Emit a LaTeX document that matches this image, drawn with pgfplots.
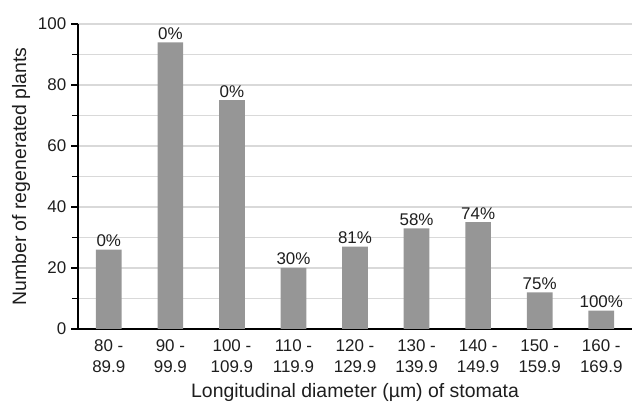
\documentclass[border=0pt]{standalone}
\usepackage{pgfplots}
\pgfplotsset{compat=1.18}
\usepackage{pgfplotstable}
\usepackage{fontspec}
\setmainfont{Liberation Sans}
\definecolor{barc}{RGB}{150,150,150}
\definecolor{gridc}{RGB}{217,217,217}
\definecolor{txt}{RGB}{30,30,30}
\pgfplotstableread{
x y lab
0 26 0\%
1 94 0\%
2 75 0\%
3 20 30\%
4 27 81\%
5 33 58\%
6 35 74\%
7 12 75\%
8 6 100\%
}\datatab
\begin{document}
\begin{tikzpicture}
\path[use as bounding box] (-56.2pt,-52.6pt) rectangle (403.3pt,236.9pt);
\begin{axis}[
  at={(0,0)}, anchor=south west,
  scale only axis, width=399pt, height=219.6pt,
  font=\fontsize{12.2}{14}\selectfont,
  /pgf/number format/assume math mode=true,
  axis x line*=bottom, axis y line*=left,
  axis line style={line width=1.1pt, -},
  xmin=-0.5, xmax=8.5, ymin=0, ymax=100,
  ytick={0,20,...,100},
  minor ytick={10,30,...,90},
  ymajorgrids, yminorgrids,
  major grid style={gridc, line width=1.3pt},
  minor grid style={gridc, line width=1.3pt},
  xtick={0,...,8},
  xticklabels={{80 -\\89.9},{90 -\\99.9},{100 -\\109.9},{110 -\\119.9},{120 -\\129.9},{130 -\\139.9},{140 -\\149.9},{150 -\\159.9},{160 -\\169.9}},
  minor xtick={-0.5,0.5,...,8.5},
  xtick style={draw=none},
  minor x tick style={black, line width=1.1pt},
  ytick style={black, line width=1.1pt},
  minor y tick style={black, line width=1.1pt},
  tick align=outside,
  major tick length=5pt, minor tick length=4.5pt,
  xticklabel style={align=center, text=txt, font=\fontsize{12.2}{15.2}\selectfont, yshift=1pt},
  yticklabel style={text=txt},
  ylabel={Number of regenerated plants},
  xlabel={Longitudinal diameter (µm) of stomata},
  every axis y label/.style={at={(rel axis cs:0,0.5)}, xshift=-41pt, rotate=90, anchor=center, text=txt, font=\fontsize{14}{16}\selectfont},
  every axis x label/.style={at={(rel axis cs:0.5,0)}, yshift=-49.6pt, anchor=base, text=txt, font=\fontsize{14}{16}\selectfont},
  clip=false,
]
\addplot[ybar, bar width=18.5pt, fill=barc, draw=none,
  nodes near coords, point meta=explicit symbolic,
  nodes near coords style={font=\fontsize{12.2}{14}\selectfont, text=txt, anchor=south, inner sep=2pt}]
  table[x=x, y=y, meta=lab] {\datatab};
\end{axis}
\end{tikzpicture}
\end{document}
